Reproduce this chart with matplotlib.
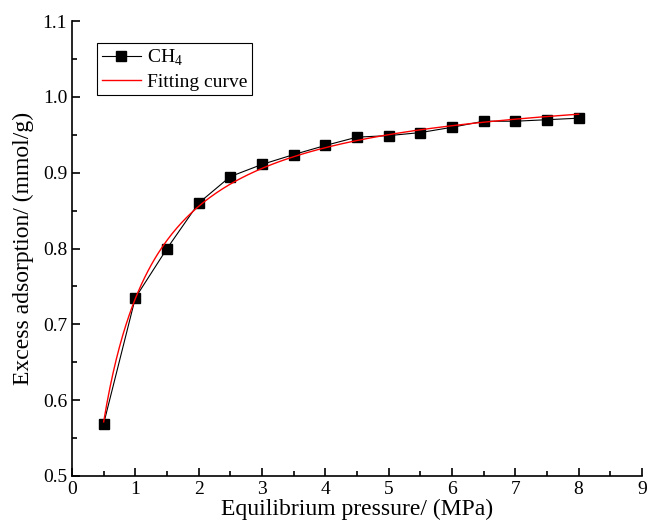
import numpy as np
import matplotlib
matplotlib.use("Agg")
import matplotlib.pyplot as plt
from matplotlib.ticker import MultipleLocator

plt.rcParams['font.family'] = ['Liberation Serif', 'DejaVu Serif']
plt.rcParams['mathtext.fontset'] = 'custom'
plt.rcParams['mathtext.rm'] = 'Liberation Serif'

# measured data
pressure = [0.5, 1.0, 1.5, 2.0, 2.5, 3.0, 3.5, 4.0, 4.5, 5.0, 5.5, 6.0, 6.5, 7.0, 7.5, 8.0]
adsorption = [0.569, 0.735, 0.800, 0.860, 0.895, 0.911, 0.924, 0.936, 0.947, 0.949,
              0.953, 0.960, 0.968, 0.968, 0.970, 0.972]

# Langmuir fit V = VL*P/(PL+P), least squares (grid over PL, VL solved linearly)
P = np.array(pressure)
V = np.array(adsorption)
best = None
for pl in np.linspace(0.05, 2.0, 4000):
    f = P / (pl + P)
    vl = np.sum(V * f) / np.sum(f * f)
    sse = np.sum((V - vl * f) ** 2)
    if best is None or sse < best[0]:
        best = (sse, pl, vl)
_, PL, VL = best
pfit = np.linspace(P.min(), P.max(), 300)
vfit = VL * pfit / (PL + pfit)

fig = plt.figure(figsize=(6.51, 5.29), dpi=100)
ax = fig.add_axes([0.1106, 0.1002, 0.8755, 0.8598])

ax.plot(P, V, color='k', lw=0.8, marker='s', ms=7.5, mfc='k', mec='k', label='CH$_4$')
ax.plot(pfit, vfit, color='red', lw=1.0, label='Fitting curve')

ax.set_xlim(0, 9)
ax.set_ylim(0.5, 1.1)
ax.xaxis.set_major_locator(MultipleLocator(1))
ax.xaxis.set_minor_locator(MultipleLocator(0.5))
ax.yaxis.set_major_locator(MultipleLocator(0.1))
ax.yaxis.set_minor_locator(MultipleLocator(0.05))
ax.spines['top'].set_visible(False)
ax.spines['right'].set_visible(False)
ax.spines['left'].set_linewidth(1.2)
ax.spines['bottom'].set_linewidth(1.2)
ax.tick_params(which='both', direction='in', width=1.2, labelsize=14)
ax.tick_params(which='major', length=6)
ax.tick_params(which='minor', length=3.5)
ax.set_xlabel('Equilibrium pressure/ (MPa)', fontsize=17, labelpad=1)
ax.set_ylabel('Excess adsorption/ (mmol/g)', fontsize=17, labelpad=6)

leg = ax.legend(loc='upper left', bbox_to_anchor=(0.044, 0.952), fontsize=14, frameon=True,
                fancybox=False, edgecolor='k', framealpha=1, handlelength=2.0,
                borderpad=0.25, labelspacing=0.25, handletextpad=0.3, borderaxespad=0)
leg.get_frame().set_linewidth(0.8)

fig.savefig('out.png', dpi=100)
